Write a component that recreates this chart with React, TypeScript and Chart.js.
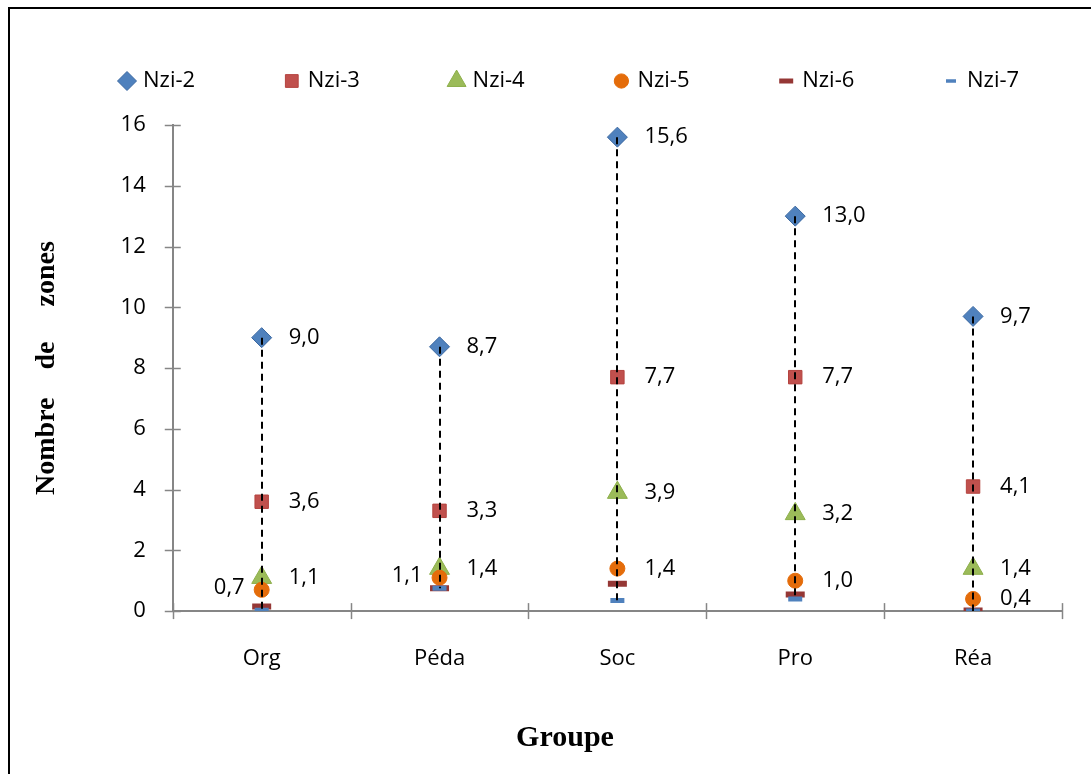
import React, { useEffect, useRef } from 'react';
import { Chart, registerables } from 'chart.js';
import { drawPoint } from 'chart.js/helpers';

Chart.register(...registerables);

const categories = ['Org', 'Péda', 'Soc', 'Pro', 'Réa'];
const seriesNames = ['Nzi-2', 'Nzi-3', 'Nzi-4', 'Nzi-5', 'Nzi-6', 'Nzi-7'];
const nzi2 = [9.0, 8.7, 15.6, 13.0, 9.7];
const nzi3 = [3.6, 3.3, 7.7, 7.7, 4.1];
const nzi4 = [1.1, 1.4, 3.9, 3.2, 1.4];
const nzi5 = [0.7, 1.1, 1.4, 1.0, 0.4];
const nzi6 = [0.15, 0.75, 0.9, 0.55, 0.02];
const nzi7 = [0.03, 0.75, 0.35, 0.4, 0.0];
const yTickValues = [0, 2, 4, 6, 8, 10, 12, 14, 16];
const xTitle = 'Groupe';
const yTitle = 'Nombre    de     zones';
// which side the data label sits on, per labelled series
const labelSides = [
  ['right', 'right', 'right', 'right', 'right'],
  ['right', 'right', 'right', 'right', 'right'],
  ['right', 'right', 'right', 'right', 'right'],
  ['left', 'left', 'right', 'right', 'right'],
];

const seriesData = [nzi2, nzi3, nzi4, nzi5, nzi6, nzi7];

const styles = [
  { pointStyle: 'rectRot', radius: 10, bg: '#4F81BD', border: '#3A67A0', bw: 1 },
  { pointStyle: 'rect', radius: 9.5, bg: '#C0504D', border: '#B4433F', bw: 1 },
  { pointStyle: 'triangle', radius: 11.5, bg: '#9BBB59', border: '#8DAF4B', bw: 1 },
  { pointStyle: 'circle', radius: 7.5, bg: '#E46C0A', border: '#E46C0A', bw: 1 },
  { pointStyle: 'line', radius: 9.5, bg: '#953735', border: '#953735', bw: 6 },
  { pointStyle: 'line', radius: 7, bg: '#4F81BD', border: '#4F81BD', bw: 5 },
];

const FONT = 'Open Sans';
const AXIS_GREY = '#868686';

const crossTicksPlugin = {
  id: 'crossTicks',
  beforeDatasetsDraw(chart: any) {
    const { ctx, scales } = chart;
    const x = scales.x;
    const y = scales.y;
    ctx.save();
    ctx.strokeStyle = AXIS_GREY;
    ctx.lineWidth = 1.5;
    yTickValues.forEach((v) => {
      const py = Math.round(y.getPixelForValue(v)) + 0.5;
      ctx.beginPath();
      ctx.moveTo(x.left - 8, py);
      ctx.lineTo(x.left + 8, py);
      ctx.stroke();
    });
    for (let i = 0; i <= categories.length; i++) {
      const px = Math.round(x.getPixelForValue(i - 0.5)) + 0.5;
      ctx.beginPath();
      ctx.moveTo(px, y.bottom - 8);
      ctx.lineTo(px, y.bottom + 8);
      ctx.stroke();
    }
    ctx.restore();
  },
};

const dropLinesPlugin = {
  id: 'dropLines',
  afterDatasetsDraw(chart: any) {
    const { ctx, scales } = chart;
    const x = scales.x;
    const y = scales.y;
    ctx.save();
    ctx.strokeStyle = '#000';
    ctx.lineWidth = 2;
    ctx.setLineDash([7, 5]);
    categories.forEach((_, i) => {
      const vals = seriesData.map((s) => s[i]);
      const hi = Math.max(...vals);
      const lo = Math.min(...vals);
      const px = Math.round(x.getPixelForValue(i));
      ctx.beginPath();
      ctx.moveTo(px, y.getPixelForValue(hi));
      ctx.lineTo(px, y.getPixelForValue(lo));
      ctx.stroke();
    });
    ctx.restore();

    // data labels
    ctx.save();
    ctx.fillStyle = '#000';
    ctx.font = `22px "${FONT}"`;
    ctx.textBaseline = 'middle';
    labelSides.forEach((sides, d) => {
      const meta = chart.getDatasetMeta(d);
      meta.data.forEach((el: any, i: number) => {
        const v = seriesData[d][i];
        const txt = v.toFixed(1).replace('.', ',');
        if (sides[i] === 'left') {
          ctx.textAlign = 'right';
          ctx.fillText(txt, el.x - 17, el.y - 2);
        } else {
          ctx.textAlign = 'left';
          ctx.fillText(txt, el.x + 27, el.y);
        }
      });
    });
    ctx.restore();
  },
};

const titlesPlugin = {
  id: 'axisTitles',
  afterDraw(chart: any) {
    const { ctx } = chart;
    ctx.save();
    ctx.fillStyle = '#000';
    ctx.font = 'bold 30px "Liberation Serif"';
    ctx.textAlign = 'center';
    ctx.textBaseline = 'middle';
    ctx.fillText(xTitle, 565, 738);
    ctx.restore();
  },
};

const legendPlugin = {
  id: 'customLegend',
  afterDraw(chart: any) {
    const { ctx } = chart;
    const startX = 127;
    const step = 164.8;
    const cy = 81;
    ctx.save();
    seriesNames.forEach((name, i) => {
      const st = styles[i];
      const cx = startX + i * step;
      ctx.fillStyle = st.bg;
      ctx.strokeStyle = st.border;
      let radius = st.radius * 0.95;
      let bw = st.bw;
      if (i === 4) { radius = 7; bw = 5; }
      if (i === 5) { radius = 5; bw = 3.5; }
      ctx.lineWidth = bw;
      drawPoint(ctx, { pointStyle: st.pointStyle, rotation: 0, radius, borderWidth: bw } as any, cx, cy);
      ctx.fillStyle = '#000';
      ctx.font = `22px "${FONT}"`;
      ctx.textAlign = 'left';
      ctx.textBaseline = 'middle';
      ctx.fillText(name, cx + 16, cy);
    });
    ctx.restore();
  },
};

export default function App() {
  const canvasRef = useRef<HTMLCanvasElement | null>(null);

  useEffect(() => {
    if (!canvasRef.current) return;
    const datasets = seriesNames.map((name, i) => ({
      label: name,
      data: seriesData[i],
      showLine: false,
      pointStyle: styles[i].pointStyle as any,
      pointRadius: styles[i].radius,
      pointHoverRadius: styles[i].radius,
      pointBackgroundColor: styles[i].bg,
      pointBorderColor: styles[i].border,
      pointBorderWidth: styles[i].bw,
      backgroundColor: styles[i].bg,
      borderColor: styles[i].border,
      order: seriesNames.length - i,
    }));
    const chart = new Chart(canvasRef.current, {
      type: 'line',
      data: { labels: categories, datasets },
      options: {
        animation: false,
        responsive: false,
        maintainAspectRatio: false,
        layout: { padding: { top: 125, right: 29, bottom: 19 + 36 + 13.5, left: 10 } },
        plugins: {
          legend: { display: false },
          tooltip: { enabled: false },
        },
        scales: {
          x: {
            type: 'category',
            offset: true,
            grid: { display: false, drawTicks: false },
            border: { display: true, color: AXIS_GREY, width: 2 },
            ticks: { padding: 34, color: '#000', font: { family: FONT, size: 22 } },
            title: { display: false, text: xTitle },
          },
          y: {
            min: 0,
            max: 16,
            grid: { display: false, drawTicks: false },
            border: { display: true, color: AXIS_GREY, width: 2 },
            ticks: { stepSize: 2, padding: 27, color: '#000', font: { family: FONT, size: 22 } },
            title: {
              display: true,
              text: yTitle,
              color: '#000',
              font: { family: 'Liberation Serif', size: 28, weight: 'bold' },
              padding: { top: 20, bottom: 30 },
            },
          },
        },
      },
      plugins: [crossTicksPlugin, dropLinesPlugin, legendPlugin, titlesPlugin],
    });
    return () => chart.destroy();
  }, []);

  return (
    <div style={{ position: 'fixed', left: 0, top: 0, width: 1091, height: 774, background: '#fff', overflow: 'hidden' }}>
      <canvas ref={canvasRef} width={1091} height={774} style={{ position: 'absolute', left: 0, top: 0, width: 1091, height: 774 }} />
      <div style={{ position: 'absolute', left: 8, top: 7, width: 1200, height: 900, borderLeft: '2.5px solid #000', borderTop: '2.5px solid #000', pointerEvents: 'none' }} />
    </div>
  );
}
